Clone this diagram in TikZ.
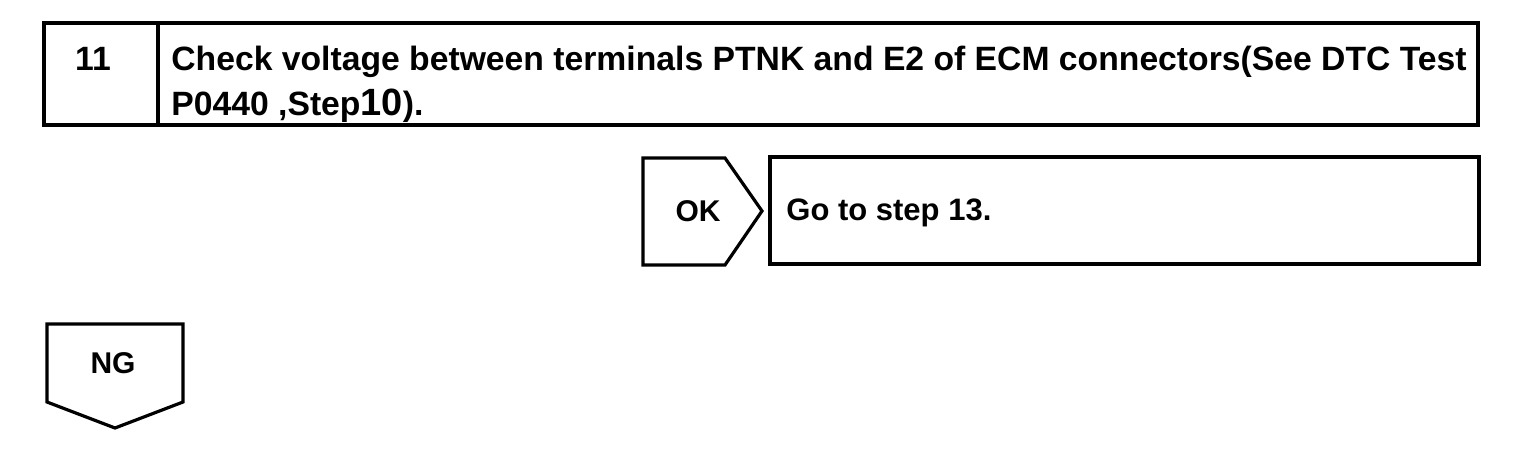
\documentclass[tikz,border=0pt]{standalone}
\usepackage{fontspec}
\setmainfont{Liberation Sans}

\begin{document}
\begin{tikzpicture}[x=0.5pt, y=-0.5pt,
	frame/.style={draw, line width=1.6pt, line join=miter},
	label/.style={font=\bfseries\fontsize{15}{21.5}\selectfont, inner sep=0pt},
	header/.style={label, font=\bfseries\fontsize{16.85}{22.3}\selectfont},
	]
	\useasboundingbox (0,0) rectangle (1520,452);
	
	% step 11 header
	\draw[frame] (44,23) rectangle (1478,125);
	\draw[frame] (158,23) -- (158,125);
	\node[header] (Number) at (93,59) {11};
	\node[header, anchor=north west, align=left] (Check) at (171,46)
		{Check voltage between terminals PTNK and E2 of ECM connectors(See DTC Test\\
		 P0440 ,Step{\fontsize{19}{22.3}\selectfont 10}).};
	
	% OK branch
	\draw[frame] (643,158) -- (725,158) -- (762,211) -- (725,265) -- (643,265) -- cycle;
	\node[label] (OK) at (698,211) {OK};
	\draw[frame] (770,157) rectangle (1479,264);
	\node[label, font=\bfseries\fontsize{15.5}{21.5}\selectfont, anchor=west] (Step) at (786,213) {Go to step 13.};
	
	% NG branch
	\draw[frame] (47,324) -- (183,324) -- (183,402) -- (115,428) -- (47,402) -- cycle;
	\node[label] (NG) at (113,363) {NG};
	
\end{tikzpicture}
\end{document}
